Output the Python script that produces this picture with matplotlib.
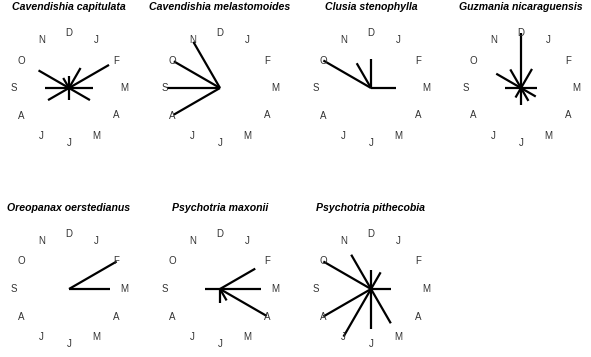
import numpy as np
import matplotlib
matplotlib.use("Agg")
import matplotlib.pyplot as plt

plt.rcParams['font.family'] = ['Liberation Sans', 'DejaVu Sans']

months = ["J", "F", "M", "A", "M", "J", "J", "A", "S", "O", "N", "D"]

species = ["Cavendishia capitulata", "Cavendishia melastomoides", "Clusia stenophylla",
           "Guzmania nicaraguensis", "Oreopanax oerstedianus", "Psychotria maxonii",
           "Psychotria pithecobia"]

# relative flowering values per month (Jan..Dec), scaled to label radius = 1
cav_capitulata = [0.42, 0.84, 0.44, 0.44, 0.0, 0.21, 0.0, 0.44, 0.44, 0.64, 0.21, 0.21]
cav_melastomoides = [0, 0, 0, 0, 0, 0, 0, 0.97, 0.97, 0.97, 0.97, 0]
clu_stenophylla = [0, 0, 0.45, 0, 0, 0, 0, 0, 0, 1.0, 0.52, 0.53]
guz_nicaraguensis = [0.4, 0, 0.29, 0.31, 0.27, 0.3, 0.2, 0, 0.29, 0.52, 0.39, 1.0]
ore_oerstedianus = [0, 1.0, 0.75, 0, 0, 0, 0, 0, 0, 0, 0, 0]
psy_maxonii = [0, 0.74, 0.74, 0.98, 0.24, 0.26, 0, 0, 0.28, 0, 0, 0]
psy_pithecobia = [0.35, 0, 0.36, 0, 0.72, 0.72, 1.0, 1.0, 0, 1.0, 0.72, 0.34]

values = [cav_capitulata, cav_melastomoides, clu_stenophylla, guz_nicaraguensis,
          ore_oerstedianus, psy_maxonii, psy_pithecobia]

W, H = 591, 357
fig = plt.figure(figsize=(W / 100, H / 100), dpi=100)

R_px = 55.0
rmax = 1.4
half = R_px * rmax
centers = [(69, 88), (220, 88), (371, 88), (521, 88),
           (69, 289), (220, 289), (371, 289)]

angles = np.deg2rad(np.arange(1, 13) * 30.0)

for name, vals, (cx, cy) in zip(species, values, centers):
    ax = fig.add_axes([(cx - half) / W, (H - cy - half) / H, 2 * half / W, 2 * half / H],
                      projection='polar')
    ax.set_theta_zero_location('N')
    ax.set_theta_direction(-1)
    ax.set_ylim(0, rmax)
    ax.axis('off')
    for th, lab in zip(angles, months):
        ax.text(th, 1.0, lab, ha='center', va='center', fontsize=7, color='#333333')
    for th, v in zip(angles, vals):
        if v > 0:
            ax.plot([th, th], [0, v], color='black', lw=1.6, solid_capstyle='butt')
    ax.text(0.5, 0.5 + 81 / (2 * half), name, transform=ax.transAxes, ha='center',
            va='center', fontsize=7.6, fontweight='bold', fontstyle='italic',
            color='black', clip_on=False)

fig.savefig("out.png", dpi=100)
